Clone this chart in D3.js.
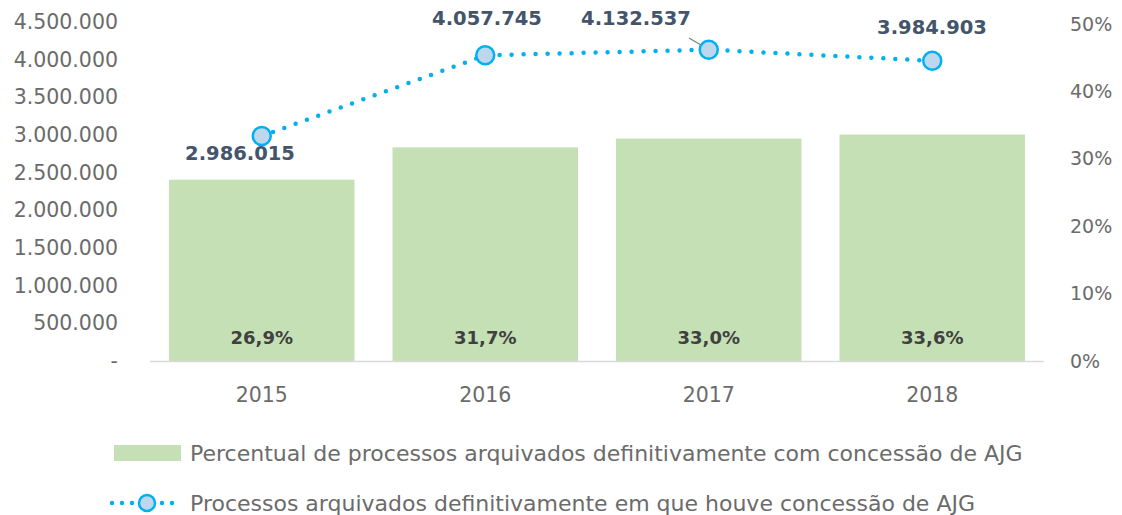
<!DOCTYPE html>
<html>
<head>
<meta charset="utf-8">
<script src="https://cdn.jsdelivr.net/npm/d3@7"></script>
<style>
  body { margin: 0; background: #fff; }
  text { font-family: "DejaVu Sans", sans-serif; }
</style>
</head>
<body>
<script>
// data
var years = ["2015", "2016", "2017", "2018"];
var percentuais = [26.9, 31.7, 33.0, 33.6];
var processos = [2986015, 4057745, 4132537, 3984903];
var leftTicks = [0, 500000, 1000000, 1500000, 2000000, 2500000, 3000000, 3500000, 4000000, 4500000];
var rightTicks = [0, 10, 20, 30, 40, 50];
var legendLabels = [
  "Percentual de processos arquivados definitivamente com concessão de AJG",
  "Processos arquivados definitivamente em que houve concessão de AJG"
];

var svgWidth = 1122;
var svgHeight = 515;

var svg = d3.select("body")
  .append("svg")
  .attr("width", svgWidth)
  .attr("height", svgHeight);

var ptFormat = function(v) {
  return v === 0 ? "-" : d3.format(",")(v).replace(/,/g, ".");
};

var xScale = d3.scaleBand()
  .domain(years)
  .range([150, 1044])
  .paddingInner(0.17)
  .paddingOuter(0.085);

var yLeft = d3.scaleLinear()
  .domain([0, 4500000])
  .range([361, 22]);

var yRight = d3.scaleLinear()
  .domain([0, 50])
  .range([361, 24]);

// left axis
var leftAxis = d3.axisLeft(yLeft).tickValues(leftTicks).tickSize(0).tickPadding(0).tickFormat(ptFormat);
var gl = svg.append("g").attr("transform", "translate(118,0)").call(leftAxis);
gl.select(".domain").remove();
gl.selectAll("text").style("font-size", "20.5px").attr("fill", "#6b6b6b").style("font-family", "DejaVu Sans");

// right axis
var rightAxis = d3.axisRight(yRight).tickValues(rightTicks).tickSize(0).tickPadding(0)
  .tickFormat(function(d) { return d + "%"; });
var gr = svg.append("g").attr("transform", "translate(1070,0)").call(rightAxis);
gr.select(".domain").remove();
gr.selectAll("text").style("font-size", "19px").attr("fill", "#6b6b6b").style("font-family", "DejaVu Sans");

// bars
svg.selectAll("rect.bar")
  .data(percentuais)
  .enter()
  .append("rect")
  .attr("class", "bar")
  .attr("x", (d, i) => xScale(years[i]))
  .attr("width", xScale.bandwidth())
  .attr("y", d => yRight(d))
  .attr("height", d => yRight(0) - yRight(d))
  .attr("fill", "#c5e0b4");

// baseline
svg.append("line")
  .attr("x1", 150).attr("x2", 1044)
  .attr("y1", yLeft(0) + 0.5).attr("y2", yLeft(0) + 0.5)
  .attr("stroke", "#d9d9d9")
  .attr("stroke-width", 1.5);

// bar labels
svg.selectAll("text.barlabel")
  .data(percentuais)
  .enter()
  .append("text")
  .attr("class", "barlabel")
  .attr("x", (d, i) => xScale(years[i]) + xScale.bandwidth() / 2)
  .attr("y", 344)
  .attr("text-anchor", "middle")
  .style("font-size", "18px")
  .style("font-weight", "bold")
  .attr("fill", "#404040")
  .text(d => d.toFixed(1).replace(".", ",") + "%");

// x axis labels
var bottomAxis = d3.axisBottom(xScale).tickSize(0).tickPadding(0);
var gb = svg.append("g").attr("transform", "translate(0,387)").call(bottomAxis);
gb.select(".domain").remove();
gb.selectAll("text").style("font-size", "20.5px").attr("fill", "#6b6b6b").style("font-family", "DejaVu Sans");

// line
var cx = (d, i) => xScale(years[i]) + xScale.bandwidth() / 2;
var line = d3.line()
  .x(cx)
  .y(d => yLeft(d));

svg.append("path")
  .datum(processos)
  .attr("d", line)
  .attr("fill", "none")
  .attr("stroke", "#00b0f0")
  .attr("stroke-width", 4.5)
  .attr("stroke-linecap", "round")
  .attr("stroke-dasharray", "0 12");

// leader line for 2017 label
svg.append("line")
  .attr("x1", 689).attr("y1", 38)
  .attr("x2", cx(processos[2], 2) - 3).attr("y2", yLeft(processos[2]) - 2)
  .attr("stroke", "#7f7f7f")
  .attr("stroke-width", 1.2);

svg.selectAll("circle.pt")
  .data(processos)
  .enter()
  .append("circle")
  .attr("class", "pt")
  .attr("cx", cx)
  .attr("cy", d => yLeft(d))
  .attr("r", 9)
  .attr("fill", "#bdd7ee")
  .attr("stroke", "#00b0f0")
  .attr("stroke-width", 2.5);

// line labels
var labelPos = [[240, 160], [487, 25], [636, 25], [932, 34]];
svg.selectAll("text.ptlabel")
  .data(processos)
  .enter()
  .append("text")
  .attr("class", "ptlabel")
  .attr("x", (d, i) => labelPos[i][0])
  .attr("y", (d, i) => labelPos[i][1])
  .attr("text-anchor", "middle")
  .style("font-size", "19.5px")
  .style("font-weight", "bold")
  .attr("fill", "#44546a")
  .text(d => ptFormat(d));

// legend
var legend = svg.append("g");
legend.append("rect")
  .attr("x", 114).attr("y", 445)
  .attr("width", 67).attr("height", 16)
  .attr("fill", "#c5e0b4");

legend.append("line")
  .attr("x1", 112).attr("x2", 180)
  .attr("y1", 503).attr("y2", 503)
  .attr("stroke", "#00b0f0")
  .attr("stroke-width", 4.5)
  .attr("stroke-linecap", "round")
  .attr("stroke-dasharray", "0 10");
legend.append("circle")
  .attr("cx", 147).attr("cy", 503).attr("r", 8)
  .attr("fill", "#bdd7ee")
  .attr("stroke", "#00b0f0")
  .attr("stroke-width", 2.5);

legend.selectAll("text.leg")
  .data(legendLabels)
  .enter()
  .append("text")
  .attr("class", "leg")
  .attr("x", 190)
  .attr("y", (d, i) => 461 + i * 50)
  .style("font-size", "22px")
  .attr("fill", "#6b6b6b")
  .text(d => d);
</script>
</body>
</html>
